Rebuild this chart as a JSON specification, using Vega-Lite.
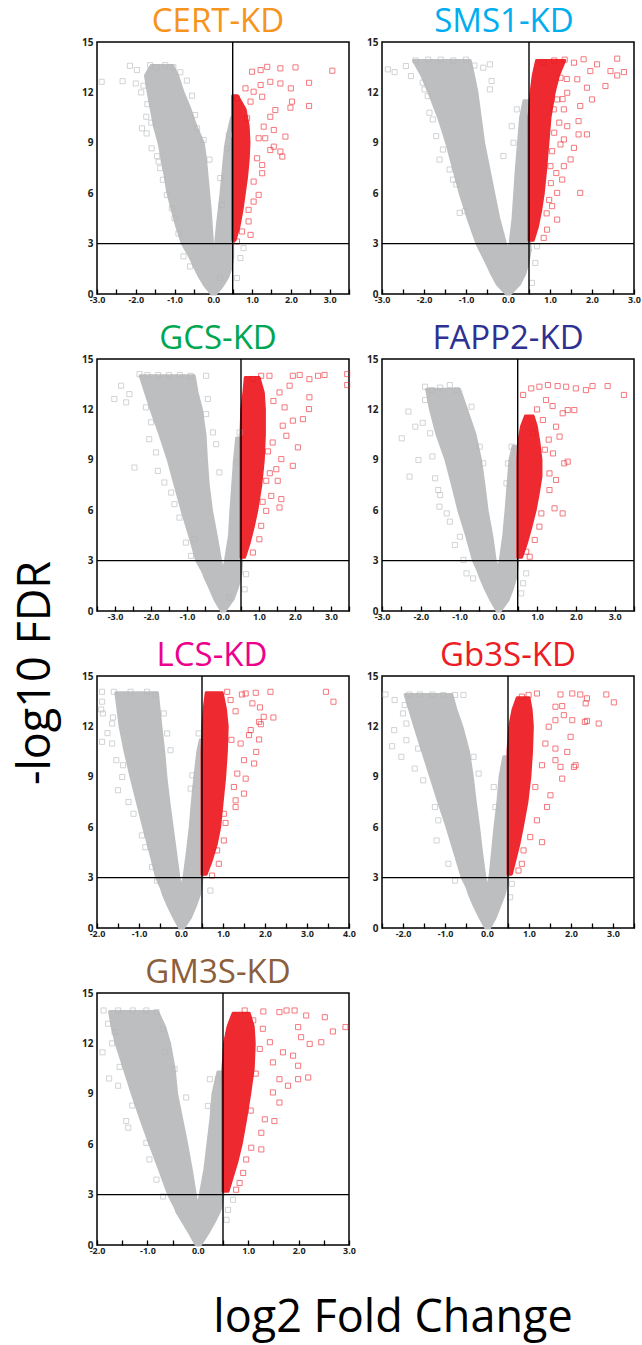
{
"$schema":"https://vega.github.io/schema/vega-lite/v6.json",
"padding":{"left":13,"top":5,"right":5,"bottom":5},
"background":"white",
"title":{"text":"-log10 FDR","orient":"left","anchor":"middle","fontSize":45,"fontWeight":"normal","font":"Open Sans","color":"#000","offset":22},
"datasets":{
"cores":[
{"p":"CERT","g":"B","y":0,"x":-0.04,"xe":0.06},{"p":"CERT","g":"B","y":0.5,"x":-0.22,"xe":0.24},{"p":"CERT","g":"B","y":1.0,"x":-0.35,"xe":0.37},{"p":"CERT","g":"B","y":1.5,"x":-0.46,"xe":0.45},{"p":"CERT","g":"B","y":2.2,"x":-0.6,"xe":0.5},
{"p":"CERT","g":"L","y":2.2,"x":-0.6,"xe":0.0},{"p":"CERT","g":"L","y":3,"x":-0.8,"xe":-0.02},{"p":"CERT","g":"L","y":4,"x":-0.94,"xe":-0.05},{"p":"CERT","g":"L","y":5,"x":-1.06,"xe":-0.08},{"p":"CERT","g":"L","y":6,"x":-1.17,"xe":-0.12},{"p":"CERT","g":"L","y":7,"x":-1.24,"xe":-0.16},{"p":"CERT","g":"L","y":8,"x":-1.32,"xe":-0.2},{"p":"CERT","g":"L","y":9,"x":-1.4,"xe":-0.26},{"p":"CERT","g":"L","y":10,"x":-1.52,"xe":-0.45},{"p":"CERT","g":"L","y":11,"x":-1.6,"xe":-0.6},{"p":"CERT","g":"L","y":12,"x":-1.68,"xe":-0.78},{"p":"CERT","g":"L","y":13,"x":-1.75,"xe":-0.92},{"p":"CERT","g":"L","y":13.6,"x":-1.6,"xe":-1.05},
{"p":"CERT","g":"R","y":2.2,"x":0.0,"xe":0.5},{"p":"CERT","g":"R","y":3,"x":0.06,"xe":0.5},{"p":"CERT","g":"R","y":4,"x":0.1,"xe":0.5},{"p":"CERT","g":"R","y":5,"x":0.15,"xe":0.5},{"p":"CERT","g":"R","y":6,"x":0.2,"xe":0.5},{"p":"CERT","g":"R","y":7,"x":0.24,"xe":0.5},{"p":"CERT","g":"R","y":8,"x":0.28,"xe":0.5},{"p":"CERT","g":"R","y":9,"x":0.33,"xe":0.5},{"p":"CERT","g":"R","y":10,"x":0.42,"xe":0.5},{"p":"CERT","g":"R","y":10.5,"x":0.47,"xe":0.5},
{"p":"CERT","g":"S","y":3.2,"x":0.5,"xe":0.56},{"p":"CERT","g":"S","y":4,"x":0.5,"xe":0.66},{"p":"CERT","g":"S","y":5,"x":0.5,"xe":0.74},{"p":"CERT","g":"S","y":6,"x":0.5,"xe":0.8},{"p":"CERT","g":"S","y":7,"x":0.5,"xe":0.86},{"p":"CERT","g":"S","y":8,"x":0.5,"xe":0.9},{"p":"CERT","g":"S","y":9,"x":0.5,"xe":0.92},{"p":"CERT","g":"S","y":10,"x":0.5,"xe":0.9},{"p":"CERT","g":"S","y":11,"x":0.5,"xe":0.82},{"p":"CERT","g":"S","y":11.8,"x":0.5,"xe":0.62},

{"p":"SMS1","g":"B","y":0,"x":-0.04,"xe":0.05},{"p":"SMS1","g":"B","y":0.6,"x":-0.26,"xe":0.28},{"p":"SMS1","g":"B","y":1.2,"x":-0.39,"xe":0.4},{"p":"SMS1","g":"B","y":1.8,"x":-0.5,"xe":0.47},{"p":"SMS1","g":"B","y":2.6,"x":-0.66,"xe":0.53},
{"p":"SMS1","g":"L","y":2.6,"x":-0.66,"xe":0.0},{"p":"SMS1","g":"L","y":3,"x":-0.74,"xe":-0.06},{"p":"SMS1","g":"L","y":4.5,"x":-0.95,"xe":-0.22},{"p":"SMS1","g":"L","y":6,"x":-1.14,"xe":-0.34},{"p":"SMS1","g":"L","y":7.5,"x":-1.3,"xe":-0.46},{"p":"SMS1","g":"L","y":9,"x":-1.46,"xe":-0.58},{"p":"SMS1","g":"L","y":10.5,"x":-1.65,"xe":-0.66},{"p":"SMS1","g":"L","y":12,"x":-1.88,"xe":-0.74},{"p":"SMS1","g":"L","y":13,"x":-2.05,"xe":-0.82},{"p":"SMS1","g":"L","y":13.9,"x":-2.25,"xe":-0.9},
{"p":"SMS1","g":"R","y":2.6,"x":0.0,"xe":0.53},{"p":"SMS1","g":"R","y":3,"x":0.05,"xe":0.52},{"p":"SMS1","g":"R","y":4.5,"x":0.12,"xe":0.5},{"p":"SMS1","g":"R","y":6,"x":0.16,"xe":0.5},{"p":"SMS1","g":"R","y":7.5,"x":0.2,"xe":0.5},{"p":"SMS1","g":"R","y":9,"x":0.25,"xe":0.5},{"p":"SMS1","g":"R","y":10.5,"x":0.3,"xe":0.5},{"p":"SMS1","g":"R","y":11.5,"x":0.38,"xe":0.5},
{"p":"SMS1","g":"S","y":3.2,"x":0.5,"xe":0.6},{"p":"SMS1","g":"S","y":4,"x":0.5,"xe":0.7},{"p":"SMS1","g":"S","y":5,"x":0.5,"xe":0.78},{"p":"SMS1","g":"S","y":6,"x":0.5,"xe":0.84},{"p":"SMS1","g":"S","y":7.5,"x":0.5,"xe":0.9},{"p":"SMS1","g":"S","y":9,"x":0.5,"xe":0.95},{"p":"SMS1","g":"S","y":10.5,"x":0.5,"xe":1.0},{"p":"SMS1","g":"S","y":12,"x":0.55,"xe":1.1},{"p":"SMS1","g":"S","y":13,"x":0.6,"xe":1.2},{"p":"SMS1","g":"S","y":13.9,"x":0.68,"xe":1.35},

{"p":"GCS","g":"B","y":0,"x":-0.04,"xe":0.05},{"p":"GCS","g":"B","y":0.7,"x":-0.23,"xe":0.28},{"p":"GCS","g":"B","y":1.4,"x":-0.37,"xe":0.4},{"p":"GCS","g":"B","y":2.0,"x":-0.5,"xe":0.48},{"p":"GCS","g":"B","y":2.3,"x":-0.55,"xe":0.5},
{"p":"GCS","g":"L","y":2.3,"x":-0.55,"xe":0.0},{"p":"GCS","g":"L","y":3,"x":-0.73,"xe":-0.07},{"p":"GCS","g":"L","y":4.5,"x":-0.93,"xe":-0.19},{"p":"GCS","g":"L","y":6,"x":-1.14,"xe":-0.32},{"p":"GCS","g":"L","y":7.5,"x":-1.33,"xe":-0.41},{"p":"GCS","g":"L","y":9,"x":-1.52,"xe":-0.46},{"p":"GCS","g":"L","y":10.5,"x":-1.75,"xe":-0.5},{"p":"GCS","g":"L","y":12,"x":-2.0,"xe":-0.6},{"p":"GCS","g":"L","y":13,"x":-2.15,"xe":-0.72},{"p":"GCS","g":"L","y":14,"x":-2.3,"xe":-0.8},
{"p":"GCS","g":"R","y":2.3,"x":0.0,"xe":0.5},{"p":"GCS","g":"R","y":3,"x":0.07,"xe":0.52},{"p":"GCS","g":"R","y":4.5,"x":0.18,"xe":0.5},{"p":"GCS","g":"R","y":6,"x":0.22,"xe":0.5},{"p":"GCS","g":"R","y":7.5,"x":0.27,"xe":0.5},{"p":"GCS","g":"R","y":9,"x":0.32,"xe":0.5},{"p":"GCS","g":"R","y":10.3,"x":0.38,"xe":0.5},
{"p":"GCS","g":"S","y":3.2,"x":0.5,"xe":0.6},{"p":"GCS","g":"S","y":4,"x":0.5,"xe":0.72},{"p":"GCS","g":"S","y":5,"x":0.5,"xe":0.84},{"p":"GCS","g":"S","y":6,"x":0.5,"xe":0.94},{"p":"GCS","g":"S","y":7.5,"x":0.5,"xe":1.05},{"p":"GCS","g":"S","y":9,"x":0.5,"xe":1.12},{"p":"GCS","g":"S","y":10.5,"x":0.5,"xe":1.15},{"p":"GCS","g":"S","y":12,"x":0.52,"xe":1.15},{"p":"GCS","g":"S","y":13,"x":0.58,"xe":1.12},{"p":"GCS","g":"S","y":13.9,"x":0.62,"xe":1.0},

{"p":"FAPP2","g":"B","y":0,"x":-0.03,"xe":0.05},{"p":"FAPP2","g":"B","y":0.65,"x":-0.19,"xe":0.25},{"p":"FAPP2","g":"B","y":1.3,"x":-0.33,"xe":0.36},{"p":"FAPP2","g":"B","y":2.0,"x":-0.46,"xe":0.45},{"p":"FAPP2","g":"B","y":2.5,"x":-0.54,"xe":0.48},
{"p":"FAPP2","g":"L","y":2.5,"x":-0.54,"xe":0.0},{"p":"FAPP2","g":"L","y":3,"x":-0.64,"xe":-0.08},{"p":"FAPP2","g":"L","y":4.5,"x":-0.82,"xe":-0.17},{"p":"FAPP2","g":"L","y":6,"x":-1.02,"xe":-0.29},{"p":"FAPP2","g":"L","y":7.5,"x":-1.18,"xe":-0.37},{"p":"FAPP2","g":"L","y":9,"x":-1.35,"xe":-0.46},{"p":"FAPP2","g":"L","y":10.5,"x":-1.58,"xe":-0.6},{"p":"FAPP2","g":"L","y":12,"x":-1.75,"xe":-0.82},{"p":"FAPP2","g":"L","y":13.2,"x":-1.85,"xe":-1.0},
{"p":"FAPP2","g":"R","y":2.5,"x":0.0,"xe":0.48},{"p":"FAPP2","g":"R","y":3,"x":0.05,"xe":0.5},{"p":"FAPP2","g":"R","y":4.5,"x":0.14,"xe":0.5},{"p":"FAPP2","g":"R","y":6,"x":0.2,"xe":0.5},{"p":"FAPP2","g":"R","y":7.5,"x":0.25,"xe":0.5},{"p":"FAPP2","g":"R","y":9,"x":0.3,"xe":0.5},{"p":"FAPP2","g":"R","y":9.8,"x":0.38,"xe":0.5},
{"p":"FAPP2","g":"S","y":3.2,"x":0.5,"xe":0.6},{"p":"FAPP2","g":"S","y":4,"x":0.5,"xe":0.72},{"p":"FAPP2","g":"S","y":5,"x":0.5,"xe":0.84},{"p":"FAPP2","g":"S","y":6,"x":0.5,"xe":0.95},{"p":"FAPP2","g":"S","y":7,"x":0.5,"xe":1.03},{"p":"FAPP2","g":"S","y":8,"x":0.5,"xe":1.1},{"p":"FAPP2","g":"S","y":9,"x":0.5,"xe":1.1},{"p":"FAPP2","g":"S","y":10,"x":0.52,"xe":1.05},{"p":"FAPP2","g":"S","y":11,"x":0.6,"xe":0.98},{"p":"FAPP2","g":"S","y":11.6,"x":0.7,"xe":0.9},

{"p":"LCS","g":"B","y":0,"x":-0.03,"xe":0.06},{"p":"LCS","g":"B","y":0.64,"x":-0.17,"xe":0.23},{"p":"LCS","g":"B","y":1.3,"x":-0.3,"xe":0.34},{"p":"LCS","g":"B","y":2.0,"x":-0.42,"xe":0.44},{"p":"LCS","g":"B","y":2.4,"x":-0.47,"xe":0.47},
{"p":"LCS","g":"L","y":2.4,"x":-0.47,"xe":0.01},{"p":"LCS","g":"L","y":3,"x":-0.58,"xe":-0.05},{"p":"LCS","g":"L","y":4.5,"x":-0.73,"xe":-0.13},{"p":"LCS","g":"L","y":6,"x":-0.89,"xe":-0.21},{"p":"LCS","g":"L","y":7.5,"x":-1.04,"xe":-0.29},{"p":"LCS","g":"L","y":9,"x":-1.19,"xe":-0.36},{"p":"LCS","g":"L","y":10.5,"x":-1.33,"xe":-0.41},{"p":"LCS","g":"L","y":12,"x":-1.45,"xe":-0.48},{"p":"LCS","g":"L","y":13,"x":-1.5,"xe":-0.52},{"p":"LCS","g":"L","y":14,"x":-1.55,"xe":-0.56},
{"p":"LCS","g":"R","y":2.4,"x":0.01,"xe":0.47},{"p":"LCS","g":"R","y":3,"x":0.07,"xe":0.5},{"p":"LCS","g":"R","y":4.5,"x":0.15,"xe":0.5},{"p":"LCS","g":"R","y":6,"x":0.22,"xe":0.5},{"p":"LCS","g":"R","y":7.5,"x":0.27,"xe":0.5},{"p":"LCS","g":"R","y":9,"x":0.33,"xe":0.5},{"p":"LCS","g":"R","y":10.5,"x":0.4,"xe":0.5},{"p":"LCS","g":"R","y":11.2,"x":0.46,"xe":0.5},
{"p":"LCS","g":"S","y":3.2,"x":0.5,"xe":0.6},{"p":"LCS","g":"S","y":4,"x":0.5,"xe":0.72},{"p":"LCS","g":"S","y":5,"x":0.5,"xe":0.84},{"p":"LCS","g":"S","y":6,"x":0.5,"xe":0.92},{"p":"LCS","g":"S","y":7.5,"x":0.5,"xe":0.98},{"p":"LCS","g":"S","y":9,"x":0.5,"xe":1.04},{"p":"LCS","g":"S","y":10.5,"x":0.5,"xe":1.08},{"p":"LCS","g":"S","y":12,"x":0.52,"xe":1.1},{"p":"LCS","g":"S","y":13,"x":0.55,"xe":1.06},{"p":"LCS","g":"S","y":14,"x":0.6,"xe":0.98},

{"p":"Gb3S","g":"B","y":0,"x":-0.03,"xe":0.06},{"p":"Gb3S","g":"B","y":0.64,"x":-0.17,"xe":0.2},{"p":"Gb3S","g":"B","y":1.3,"x":-0.3,"xe":0.3},{"p":"Gb3S","g":"B","y":2.0,"x":-0.42,"xe":0.41},{"p":"Gb3S","g":"B","y":2.4,"x":-0.47,"xe":0.45},
{"p":"Gb3S","g":"L","y":2.4,"x":-0.47,"xe":0.01},{"p":"Gb3S","g":"L","y":3,"x":-0.59,"xe":-0.05},{"p":"Gb3S","g":"L","y":4.5,"x":-0.77,"xe":-0.13},{"p":"Gb3S","g":"L","y":6,"x":-0.95,"xe":-0.2},{"p":"Gb3S","g":"L","y":7.5,"x":-1.15,"xe":-0.28},{"p":"Gb3S","g":"L","y":9,"x":-1.34,"xe":-0.35},{"p":"Gb3S","g":"L","y":10.5,"x":-1.53,"xe":-0.44},{"p":"Gb3S","g":"L","y":12,"x":-1.72,"xe":-0.6},{"p":"Gb3S","g":"L","y":13,"x":-1.84,"xe":-0.74},{"p":"Gb3S","g":"L","y":13.9,"x":-1.95,"xe":-0.84},
{"p":"Gb3S","g":"R","y":2.4,"x":0.01,"xe":0.45},{"p":"Gb3S","g":"R","y":3,"x":0.07,"xe":0.5},{"p":"Gb3S","g":"R","y":4.5,"x":0.13,"xe":0.5},{"p":"Gb3S","g":"R","y":6,"x":0.19,"xe":0.5},{"p":"Gb3S","g":"R","y":7.5,"x":0.26,"xe":0.5},{"p":"Gb3S","g":"R","y":9,"x":0.31,"xe":0.5},{"p":"Gb3S","g":"R","y":10.2,"x":0.4,"xe":0.5},
{"p":"Gb3S","g":"S","y":3.2,"x":0.5,"xe":0.58},{"p":"Gb3S","g":"S","y":4,"x":0.5,"xe":0.66},{"p":"Gb3S","g":"S","y":5,"x":0.5,"xe":0.76},{"p":"Gb3S","g":"S","y":6,"x":0.5,"xe":0.84},{"p":"Gb3S","g":"S","y":7.5,"x":0.5,"xe":0.95},{"p":"Gb3S","g":"S","y":9,"x":0.5,"xe":1.02},{"p":"Gb3S","g":"S","y":10.5,"x":0.5,"xe":1.06},{"p":"Gb3S","g":"S","y":12,"x":0.54,"xe":1.08},{"p":"Gb3S","g":"S","y":13,"x":0.62,"xe":1.05},{"p":"Gb3S","g":"S","y":13.7,"x":0.72,"xe":1.0},

{"p":"GM3S","g":"B","y":0,"x":-0.03,"xe":0.05},{"p":"GM3S","g":"B","y":0.7,"x":-0.16,"xe":0.2},{"p":"GM3S","g":"B","y":1.4,"x":-0.3,"xe":0.33},{"p":"GM3S","g":"B","y":2.0,"x":-0.42,"xe":0.43},{"p":"GM3S","g":"B","y":2.2,"x":-0.44,"xe":0.45},
{"p":"GM3S","g":"L","y":2.2,"x":-0.44,"xe":0.0},{"p":"GM3S","g":"L","y":3,"x":-0.58,"xe":-0.05},{"p":"GM3S","g":"L","y":4.5,"x":-0.76,"xe":-0.13},{"p":"GM3S","g":"L","y":6,"x":-0.95,"xe":-0.22},{"p":"GM3S","g":"L","y":7.5,"x":-1.13,"xe":-0.32},{"p":"GM3S","g":"L","y":9,"x":-1.3,"xe":-0.42},{"p":"GM3S","g":"L","y":10.5,"x":-1.46,"xe":-0.47},{"p":"GM3S","g":"L","y":12,"x":-1.62,"xe":-0.56},{"p":"GM3S","g":"L","y":13,"x":-1.7,"xe":-0.66},{"p":"GM3S","g":"L","y":13.9,"x":-1.75,"xe":-0.8},
{"p":"GM3S","g":"R","y":2.2,"x":0.0,"xe":0.45},{"p":"GM3S","g":"R","y":3,"x":0.05,"xe":0.5},{"p":"GM3S","g":"R","y":4.5,"x":0.14,"xe":0.5},{"p":"GM3S","g":"R","y":6,"x":0.2,"xe":0.5},{"p":"GM3S","g":"R","y":7.5,"x":0.26,"xe":0.5},{"p":"GM3S","g":"R","y":9,"x":0.3,"xe":0.5},{"p":"GM3S","g":"R","y":10.3,"x":0.4,"xe":0.5},
{"p":"GM3S","g":"S","y":3.2,"x":0.5,"xe":0.6},{"p":"GM3S","g":"S","y":4,"x":0.5,"xe":0.68},{"p":"GM3S","g":"S","y":5,"x":0.5,"xe":0.78},{"p":"GM3S","g":"S","y":6,"x":0.5,"xe":0.86},{"p":"GM3S","g":"S","y":7.5,"x":0.5,"xe":0.95},{"p":"GM3S","g":"S","y":9,"x":0.5,"xe":1.03},{"p":"GM3S","g":"S","y":10.5,"x":0.5,"xe":1.1},{"p":"GM3S","g":"S","y":12,"x":0.53,"xe":1.12},{"p":"GM3S","g":"S","y":13,"x":0.6,"xe":1.1},{"p":"GM3S","g":"S","y":13.8,"x":0.7,"xe":1.02}
],
"pts":[
{"p":"CERT","x":-2.88,"y":12.63},{"p":"CERT","x":-2.34,"y":12.67},{"p":"CERT","x":-2.15,"y":13.58},{"p":"CERT","x":-1.97,"y":13.33},{"p":"CERT","x":-2.0,"y":12.53},{"p":"CERT","x":-1.86,"y":12.0},{"p":"CERT","x":-1.84,"y":9.86},{"p":"CERT","x":-1.72,"y":9.56},{"p":"CERT","x":-1.59,"y":8.67},{"p":"CERT","x":-1.73,"y":10.55},{"p":"CERT","x":-1.63,"y":13.62},{"p":"CERT","x":-1.46,"y":13.5},{"p":"CERT","x":-1.24,"y":13.62},{"p":"CERT","x":-1.03,"y":13.5},{"p":"CERT","x":-0.68,"y":12.7},{"p":"CERT","x":-0.47,"y":10.65},{"p":"CERT","x":-0.42,"y":9.86},{"p":"CERT","x":-0.25,"y":9.17},{"p":"CERT","x":-1.41,"y":7.88},{"p":"CERT","x":-1.37,"y":7.49},{"p":"CERT","x":-1.2,"y":5.9},{"p":"CERT","x":-1.07,"y":5.1},{"p":"CERT","x":-0.77,"y":2.24},{"p":"CERT","x":-0.6,"y":1.64},{"p":"CERT","x":0.18,"y":0.95},{"p":"CERT","x":0.61,"y":0.95},{"p":"CERT","x":0.7,"y":2.14},{"p":"CERT","x":0.78,"y":2.73},{"p":"CERT","x":0.22,"y":5.3},{"p":"CERT","x":0.35,"y":8.67},{"p":"CERT","x":0.4,"y":9.47},{"p":"CERT","x":0.18,"y":6.9},{"p":"CERT","x":-0.9,"y":3.6},{"p":"CERT","x":-1.0,"y":4.5},{"p":"CERT","x":-1.3,"y":6.8},{"p":"CERT","x":-1.45,"y":8.2},{"p":"CERT","x":-1.6,"y":10.2},{"p":"CERT","x":-1.7,"y":11.3},{"p":"CERT","x":-1.8,"y":12.4},{"p":"CERT","x":-0.1,"y":8.0},{"p":"CERT","x":-0.55,"y":11.8},{"p":"CERT","x":-0.85,"y":13.2},
{"p":"CERT","x":3.07,"y":13.29},{"p":"CERT","x":2.12,"y":13.49},{"p":"CERT","x":1.73,"y":13.43},{"p":"CERT","x":1.39,"y":13.52},{"p":"CERT","x":1.22,"y":13.33},{"p":"CERT","x":1.0,"y":13.23},{"p":"CERT","x":2.47,"y":12.57},{"p":"CERT","x":2.0,"y":12.24},{"p":"CERT","x":1.73,"y":12.53},{"p":"CERT","x":1.47,"y":12.63},{"p":"CERT","x":1.22,"y":12.44},{"p":"CERT","x":1.04,"y":12.04},{"p":"CERT","x":2.03,"y":11.45},{"p":"CERT","x":2.47,"y":11.19},{"p":"CERT","x":1.99,"y":11.09},{"p":"CERT","x":1.6,"y":10.95},{"p":"CERT","x":1.47,"y":10.55},{"p":"CERT","x":1.26,"y":11.74},{"p":"CERT","x":1.3,"y":9.96},{"p":"CERT","x":1.56,"y":9.76},{"p":"CERT","x":1.34,"y":9.27},{"p":"CERT","x":1.86,"y":9.37},{"p":"CERT","x":1.56,"y":8.77},{"p":"CERT","x":1.73,"y":8.48},{"p":"CERT","x":1.78,"y":8.18},{"p":"CERT","x":1.47,"y":8.57},{"p":"CERT","x":1.13,"y":8.08},{"p":"CERT","x":1.26,"y":7.68},{"p":"CERT","x":1.26,"y":7.19},{"p":"CERT","x":1.04,"y":6.69},{"p":"CERT","x":1.17,"y":5.9},{"p":"CERT","x":1.04,"y":5.5},{"p":"CERT","x":0.91,"y":5.01},{"p":"CERT","x":0.91,"y":4.32},{"p":"CERT","x":0.74,"y":3.72},{"p":"CERT","x":0.96,"y":3.52},{"p":"CERT","x":0.61,"y":3.13},{"p":"CERT","x":1.17,"y":9.27},{"p":"CERT","x":0.96,"y":11.45},{"p":"CERT","x":0.83,"y":12.24},{"p":"CERT","x":0.61,"y":11.64},{"p":"CERT","x":0.87,"y":10.46},

{"p":"SMS1","x":-2.86,"y":13.37},{"p":"SMS1","x":-2.7,"y":13.21},{"p":"SMS1","x":-2.43,"y":13.57},{"p":"SMS1","x":-2.31,"y":12.97},{"p":"SMS1","x":-2.03,"y":12.58},{"p":"SMS1","x":-1.99,"y":12.18},{"p":"SMS1","x":-1.91,"y":11.78},{"p":"SMS1","x":-1.87,"y":10.79},{"p":"SMS1","x":-1.79,"y":10.39},{"p":"SMS1","x":-1.71,"y":9.4},{"p":"SMS1","x":-1.55,"y":8.6},{"p":"SMS1","x":-1.63,"y":8.0},{"p":"SMS1","x":-1.39,"y":7.41},{"p":"SMS1","x":-1.31,"y":6.81},{"p":"SMS1","x":-1.23,"y":6.52},{"p":"SMS1","x":-1.15,"y":4.83},{"p":"SMS1","x":-1.03,"y":4.93},{"p":"SMS1","x":-0.43,"y":12.18},{"p":"SMS1","x":-0.39,"y":12.68},{"p":"SMS1","x":-0.59,"y":13.47},{"p":"SMS1","x":-0.43,"y":13.67},{"p":"SMS1","x":0.21,"y":10.99},{"p":"SMS1","x":0.13,"y":9.0},{"p":"SMS1","x":0.09,"y":9.99},{"p":"SMS1","x":-0.11,"y":8.21},{"p":"SMS1","x":0.69,"y":2.84},{"p":"SMS1","x":0.65,"y":1.85},{"p":"SMS1","x":0.57,"y":0.66},{"p":"SMS1","x":-2.2,"y":13.9},{"p":"SMS1","x":-1.9,"y":13.95},{"p":"SMS1","x":-1.6,"y":13.95},{"p":"SMS1","x":-1.3,"y":13.9},{"p":"SMS1","x":-1.0,"y":13.95},{"p":"SMS1","x":-0.8,"y":13.6},
{"p":"SMS1","x":2.6,"y":14.01},{"p":"SMS1","x":2.76,"y":13.21},{"p":"SMS1","x":2.44,"y":13.27},{"p":"SMS1","x":2.6,"y":13.01},{"p":"SMS1","x":2.12,"y":13.67},{"p":"SMS1","x":1.8,"y":13.97},{"p":"SMS1","x":1.57,"y":13.77},{"p":"SMS1","x":2.32,"y":12.38},{"p":"SMS1","x":1.88,"y":12.28},{"p":"SMS1","x":2.0,"y":11.58},{"p":"SMS1","x":1.72,"y":11.19},{"p":"SMS1","x":1.68,"y":10.29},{"p":"SMS1","x":1.88,"y":9.5},{"p":"SMS1","x":1.68,"y":9.5},{"p":"SMS1","x":1.57,"y":8.7},{"p":"SMS1","x":1.41,"y":9.99},{"p":"SMS1","x":1.33,"y":9.2},{"p":"SMS1","x":1.49,"y":8.01},{"p":"SMS1","x":1.72,"y":6.02},{"p":"SMS1","x":1.33,"y":7.61},{"p":"SMS1","x":1.29,"y":6.81},{"p":"SMS1","x":1.17,"y":6.02},{"p":"SMS1","x":1.05,"y":5.23},{"p":"SMS1","x":1.17,"y":4.43},{"p":"SMS1","x":0.93,"y":3.83},{"p":"SMS1","x":0.85,"y":3.34},{"p":"SMS1","x":1.41,"y":11.98},{"p":"SMS1","x":1.25,"y":12.87},{"p":"SMS1","x":1.65,"y":12.78},{"p":"SMS1","x":1.96,"y":13.27},{"p":"SMS1","x":1.09,"y":10.99},{"p":"SMS1","x":1.17,"y":11.58},{"p":"SMS1","x":0.85,"y":13.77},{"p":"SMS1","x":1.33,"y":10.99},{"p":"SMS1","x":1.01,"y":7.61},{"p":"SMS1","x":1.05,"y":8.5},{"p":"SMS1","x":1.15,"y":7.2},{"p":"SMS1","x":0.98,"y":5.6},{"p":"SMS1","x":1.22,"y":10.2},{"p":"SMS1","x":1.3,"y":11.6},{"p":"SMS1","x":1.1,"y":9.6},{"p":"SMS1","x":0.92,"y":4.8},{"p":"SMS1","x":1.4,"y":12.8},{"p":"SMS1","x":1.02,"y":6.6},{"p":"SMS1","x":1.25,"y":8.9},{"p":"SMS1","x":1.1,"y":13.9},{"p":"SMS1","x":1.35,"y":13.95},

{"p":"GCS","x":-3.02,"y":12.62},{"p":"GCS","x":-2.69,"y":12.42},{"p":"GCS","x":-2.6,"y":12.91},{"p":"GCS","x":-2.83,"y":13.41},{"p":"GCS","x":-2.32,"y":14.1},{"p":"GCS","x":-2.14,"y":12.12},{"p":"GCS","x":-2.05,"y":10.23},{"p":"GCS","x":-2.0,"y":11.23},{"p":"GCS","x":-1.86,"y":9.44},{"p":"GCS","x":-1.81,"y":8.34},{"p":"GCS","x":-2.46,"y":8.54},{"p":"GCS","x":-1.63,"y":7.65},{"p":"GCS","x":-1.44,"y":7.05},{"p":"GCS","x":-1.35,"y":6.36},{"p":"GCS","x":-1.21,"y":5.56},{"p":"GCS","x":-1.03,"y":4.07},{"p":"GCS","x":-0.89,"y":3.28},{"p":"GCS","x":-0.79,"y":4.27},{"p":"GCS","x":-0.47,"y":14.0},{"p":"GCS","x":-0.42,"y":12.62},{"p":"GCS","x":-0.47,"y":11.72},{"p":"GCS","x":-0.28,"y":10.63},{"p":"GCS","x":-0.19,"y":9.93},{"p":"GCS","x":-0.1,"y":8.25},{"p":"GCS","x":0.36,"y":8.84},{"p":"GCS","x":0.46,"y":10.63},{"p":"GCS","x":0.64,"y":2.19},{"p":"GCS","x":0.6,"y":1.29},{"p":"GCS","x":0.18,"y":0.79},{"p":"GCS","x":-2.1,"y":14.05},{"p":"GCS","x":-1.8,"y":14.05},{"p":"GCS","x":-1.5,"y":14.05},{"p":"GCS","x":-1.2,"y":14.05},{"p":"GCS","x":-0.9,"y":14.0},
{"p":"GCS","x":3.45,"y":14.1},{"p":"GCS","x":3.45,"y":13.45},{"p":"GCS","x":2.82,"y":14.05},{"p":"GCS","x":2.64,"y":14.0},{"p":"GCS","x":2.4,"y":13.8},{"p":"GCS","x":2.13,"y":14.05},{"p":"GCS","x":1.94,"y":14.0},{"p":"GCS","x":2.4,"y":12.72},{"p":"GCS","x":2.39,"y":12.02},{"p":"GCS","x":2.22,"y":11.42},{"p":"GCS","x":1.94,"y":11.33},{"p":"GCS","x":1.71,"y":12.12},{"p":"GCS","x":2.08,"y":9.74},{"p":"GCS","x":1.76,"y":10.43},{"p":"GCS","x":1.62,"y":9.04},{"p":"GCS","x":1.48,"y":8.44},{"p":"GCS","x":1.52,"y":7.75},{"p":"GCS","x":1.62,"y":6.66},{"p":"GCS","x":1.57,"y":6.16},{"p":"GCS","x":1.34,"y":6.85},{"p":"GCS","x":1.2,"y":5.96},{"p":"GCS","x":1.06,"y":5.07},{"p":"GCS","x":1.01,"y":4.27},{"p":"GCS","x":0.83,"y":3.48},{"p":"GCS","x":1.2,"y":7.75},{"p":"GCS","x":1.85,"y":13.41},{"p":"GCS","x":1.57,"y":13.01},{"p":"GCS","x":1.29,"y":14.0},{"p":"GCS","x":1.06,"y":14.0},{"p":"GCS","x":0.83,"y":13.81},{"p":"GCS","x":1.38,"y":10.03},{"p":"GCS","x":1.66,"y":11.03},{"p":"GCS","x":1.94,"y":8.64},{"p":"GCS","x":1.4,"y":12.5},{"p":"GCS","x":1.25,"y":9.5},{"p":"GCS","x":1.1,"y":6.5},{"p":"GCS","x":1.3,"y":8.2},

{"p":"FAPP2","x":-2.49,"y":10.28},{"p":"FAPP2","x":-2.32,"y":11.87},{"p":"FAPP2","x":-2.14,"y":10.97},{"p":"FAPP2","x":-2.06,"y":8.99},{"p":"FAPP2","x":-2.29,"y":8.0},{"p":"FAPP2","x":-1.89,"y":13.35},{"p":"FAPP2","x":-1.72,"y":13.15},{"p":"FAPP2","x":-1.89,"y":12.56},{"p":"FAPP2","x":-1.76,"y":10.58},{"p":"FAPP2","x":-1.63,"y":7.9},{"p":"FAPP2","x":-1.55,"y":7.2},{"p":"FAPP2","x":-1.52,"y":6.21},{"p":"FAPP2","x":-1.5,"y":6.9},{"p":"FAPP2","x":-1.33,"y":5.81},{"p":"FAPP2","x":-1.25,"y":5.32},{"p":"FAPP2","x":-1.12,"y":3.93},{"p":"FAPP2","x":-0.99,"y":4.42},{"p":"FAPP2","x":-0.9,"y":3.04},{"p":"FAPP2","x":-0.82,"y":2.24},{"p":"FAPP2","x":-0.65,"y":1.94},{"p":"FAPP2","x":-1.25,"y":13.45},{"p":"FAPP2","x":-1.08,"y":13.15},{"p":"FAPP2","x":-0.69,"y":12.16},{"p":"FAPP2","x":-0.48,"y":9.78},{"p":"FAPP2","x":-0.39,"y":8.79},{"p":"FAPP2","x":0.25,"y":8.79},{"p":"FAPP2","x":0.34,"y":9.78},{"p":"FAPP2","x":0.21,"y":7.6},{"p":"FAPP2","x":0.72,"y":2.24},{"p":"FAPP2","x":0.64,"y":1.65},{"p":"FAPP2","x":0.59,"y":1.05},{"p":"FAPP2","x":-1.5,"y":13.3},{"p":"FAPP2","x":-1.95,"y":11.2},{"p":"FAPP2","x":-1.7,"y":9.2},
{"p":"FAPP2","x":3.24,"y":12.86},{"p":"FAPP2","x":2.82,"y":13.39},{"p":"FAPP2","x":2.43,"y":13.39},{"p":"FAPP2","x":2.26,"y":13.15},{"p":"FAPP2","x":2.0,"y":13.25},{"p":"FAPP2","x":1.75,"y":13.35},{"p":"FAPP2","x":1.53,"y":13.39},{"p":"FAPP2","x":1.28,"y":13.45},{"p":"FAPP2","x":1.06,"y":13.35},{"p":"FAPP2","x":0.85,"y":13.25},{"p":"FAPP2","x":0.64,"y":12.86},{"p":"FAPP2","x":1.96,"y":11.96},{"p":"FAPP2","x":1.79,"y":11.96},{"p":"FAPP2","x":1.66,"y":11.77},{"p":"FAPP2","x":1.49,"y":10.97},{"p":"FAPP2","x":1.58,"y":10.38},{"p":"FAPP2","x":1.79,"y":8.89},{"p":"FAPP2","x":1.7,"y":8.79},{"p":"FAPP2","x":1.41,"y":9.38},{"p":"FAPP2","x":1.32,"y":8.19},{"p":"FAPP2","x":1.49,"y":7.8},{"p":"FAPP2","x":1.32,"y":7.2},{"p":"FAPP2","x":1.66,"y":5.81},{"p":"FAPP2","x":1.45,"y":6.11},{"p":"FAPP2","x":1.11,"y":5.81},{"p":"FAPP2","x":1.06,"y":5.02},{"p":"FAPP2","x":0.94,"y":4.23},{"p":"FAPP2","x":0.72,"y":3.53},{"p":"FAPP2","x":0.81,"y":3.23},{"p":"FAPP2","x":0.89,"y":10.58},{"p":"FAPP2","x":1.15,"y":11.37},{"p":"FAPP2","x":1.23,"y":12.56},{"p":"FAPP2","x":1.4,"y":12.2},{"p":"FAPP2","x":1.3,"y":10.2},{"p":"FAPP2","x":1.2,"y":9.6},{"p":"FAPP2","x":1.0,"y":12.0},

{"p":"LCS","x":-1.88,"y":14.06},{"p":"LCS","x":-1.88,"y":13.47},{"p":"LCS","x":-1.9,"y":13.01},{"p":"LCS","x":-1.86,"y":12.77},{"p":"LCS","x":-1.62,"y":12.53},{"p":"LCS","x":-1.64,"y":12.17},{"p":"LCS","x":-1.88,"y":11.08},{"p":"LCS","x":-1.64,"y":10.98},{"p":"LCS","x":-1.54,"y":9.99},{"p":"LCS","x":-1.4,"y":8.99},{"p":"LCS","x":-1.38,"y":9.69},{"p":"LCS","x":-1.13,"y":6.8},{"p":"LCS","x":-0.93,"y":5.51},{"p":"LCS","x":-0.85,"y":4.81},{"p":"LCS","x":-0.69,"y":3.62},{"p":"LCS","x":-0.57,"y":2.82},{"p":"LCS","x":-1.6,"y":14.06},{"p":"LCS","x":-1.2,"y":14.06},{"p":"LCS","x":-0.81,"y":14.06},{"p":"LCS","x":-0.61,"y":13.87},{"p":"LCS","x":-0.41,"y":12.77},{"p":"LCS","x":-0.33,"y":11.58},{"p":"LCS","x":-0.25,"y":10.58},{"p":"LCS","x":0.42,"y":11.58},{"p":"LCS","x":0.23,"y":8.3},{"p":"LCS","x":0.27,"y":9.09},{"p":"LCS","x":0.7,"y":2.23},{"p":"LCS","x":-1.75,"y":11.6},{"p":"LCS","x":-1.5,"y":8.2},{"p":"LCS","x":-1.25,"y":7.5},
{"p":"LCS","x":3.45,"y":14.06},{"p":"LCS","x":3.63,"y":13.47},{"p":"LCS","x":2.13,"y":14.06},{"p":"LCS","x":1.78,"y":14.0},{"p":"LCS","x":1.54,"y":13.96},{"p":"LCS","x":1.7,"y":13.37},{"p":"LCS","x":1.88,"y":13.13},{"p":"LCS","x":1.86,"y":12.27},{"p":"LCS","x":1.9,"y":12.13},{"p":"LCS","x":2.2,"y":12.53},{"p":"LCS","x":1.97,"y":12.57},{"p":"LCS","x":1.66,"y":11.78},{"p":"LCS","x":1.86,"y":11.22},{"p":"LCS","x":1.62,"y":11.48},{"p":"LCS","x":1.42,"y":10.98},{"p":"LCS","x":1.79,"y":10.48},{"p":"LCS","x":1.74,"y":9.79},{"p":"LCS","x":1.5,"y":9.99},{"p":"LCS","x":1.54,"y":8.89},{"p":"LCS","x":1.5,"y":8.0},{"p":"LCS","x":1.3,"y":7.6},{"p":"LCS","x":1.3,"y":7.2},{"p":"LCS","x":1.02,"y":6.8},{"p":"LCS","x":1.06,"y":6.25},{"p":"LCS","x":1.02,"y":5.21},{"p":"LCS","x":0.86,"y":4.62},{"p":"LCS","x":0.9,"y":3.82},{"p":"LCS","x":0.74,"y":3.12},{"p":"LCS","x":1.18,"y":13.57},{"p":"LCS","x":1.1,"y":14.06},{"p":"LCS","x":1.34,"y":9.19},{"p":"LCS","x":1.26,"y":8.39},{"p":"LCS","x":1.3,"y":12.9},{"p":"LCS","x":1.45,"y":13.9},{"p":"LCS","x":1.2,"y":11.2},

{"p":"Gb3S","x":-2.42,"y":13.9},{"p":"Gb3S","x":-2.2,"y":13.57},{"p":"Gb3S","x":-1.96,"y":13.27},{"p":"Gb3S","x":-2.0,"y":12.77},{"p":"Gb3S","x":-2.21,"y":11.78},{"p":"Gb3S","x":-2.26,"y":10.82},{"p":"Gb3S","x":-2.04,"y":10.19},{"p":"Gb3S","x":-1.92,"y":12.17},{"p":"Gb3S","x":-1.92,"y":11.18},{"p":"Gb3S","x":-1.64,"y":10.68},{"p":"Gb3S","x":-1.72,"y":9.49},{"p":"Gb3S","x":-1.52,"y":8.79},{"p":"Gb3S","x":-1.24,"y":7.2},{"p":"Gb3S","x":-1.16,"y":6.41},{"p":"Gb3S","x":-1.2,"y":5.21},{"p":"Gb3S","x":-0.92,"y":3.82},{"p":"Gb3S","x":-0.76,"y":2.82},{"p":"Gb3S","x":-0.56,"y":13.87},{"p":"Gb3S","x":-0.76,"y":13.87},{"p":"Gb3S","x":-1.04,"y":13.87},{"p":"Gb3S","x":-0.32,"y":10.19},{"p":"Gb3S","x":-0.2,"y":9.19},{"p":"Gb3S","x":0.16,"y":8.39},{"p":"Gb3S","x":0.2,"y":7.2},{"p":"Gb3S","x":0.59,"y":2.63},{"p":"Gb3S","x":0.55,"y":1.83},{"p":"Gb3S","x":-1.3,"y":13.9},{"p":"Gb3S","x":-1.6,"y":13.9},{"p":"Gb3S","x":-1.85,"y":13.9},
{"p":"Gb3S","x":2.84,"y":13.9},{"p":"Gb3S","x":3.02,"y":13.43},{"p":"Gb3S","x":2.38,"y":13.67},{"p":"Gb3S","x":2.22,"y":13.9},{"p":"Gb3S","x":2.03,"y":13.96},{"p":"Gb3S","x":1.75,"y":13.9},{"p":"Gb3S","x":1.79,"y":13.21},{"p":"Gb3S","x":1.63,"y":13.17},{"p":"Gb3S","x":2.35,"y":13.37},{"p":"Gb3S","x":2.66,"y":12.17},{"p":"Gb3S","x":2.38,"y":12.33},{"p":"Gb3S","x":2.33,"y":12.27},{"p":"Gb3S","x":2.03,"y":12.37},{"p":"Gb3S","x":1.83,"y":12.67},{"p":"Gb3S","x":1.63,"y":12.37},{"p":"Gb3S","x":1.99,"y":11.38},{"p":"Gb3S","x":1.63,"y":10.68},{"p":"Gb3S","x":1.91,"y":10.48},{"p":"Gb3S","x":2.11,"y":9.69},{"p":"Gb3S","x":2.07,"y":9.59},{"p":"Gb3S","x":1.75,"y":9.59},{"p":"Gb3S","x":1.63,"y":9.99},{"p":"Gb3S","x":1.79,"y":8.89},{"p":"Gb3S","x":1.31,"y":9.69},{"p":"Gb3S","x":1.51,"y":7.9},{"p":"Gb3S","x":1.43,"y":7.2},{"p":"Gb3S","x":1.19,"y":6.41},{"p":"Gb3S","x":1.31,"y":5.11},{"p":"Gb3S","x":1.03,"y":5.41},{"p":"Gb3S","x":0.87,"y":4.62},{"p":"Gb3S","x":0.83,"y":3.82},{"p":"Gb3S","x":0.75,"y":3.42},{"p":"Gb3S","x":1.19,"y":13.96},{"p":"Gb3S","x":0.99,"y":13.87},{"p":"Gb3S","x":0.83,"y":13.77},{"p":"Gb3S","x":1.47,"y":11.98},{"p":"Gb3S","x":1.39,"y":10.98},{"p":"Gb3S","x":1.15,"y":8.39},

{"p":"GM3S","x":-1.87,"y":13.96},{"p":"GM3S","x":-1.78,"y":13.17},{"p":"GM3S","x":-1.65,"y":12.67},{"p":"GM3S","x":-1.89,"y":11.47},{"p":"GM3S","x":-1.76,"y":9.91},{"p":"GM3S","x":-1.58,"y":9.48},{"p":"GM3S","x":-1.42,"y":7.38},{"p":"GM3S","x":-1.38,"y":6.98},{"p":"GM3S","x":-1.02,"y":6.08},{"p":"GM3S","x":-0.96,"y":5.09},{"p":"GM3S","x":-0.82,"y":3.89},{"p":"GM3S","x":-0.69,"y":2.89},{"p":"GM3S","x":-1.58,"y":13.96},{"p":"GM3S","x":-1.29,"y":13.96},{"p":"GM3S","x":-1.02,"y":13.96},{"p":"GM3S","x":-0.82,"y":13.86},{"p":"GM3S","x":-0.69,"y":12.87},{"p":"GM3S","x":-0.66,"y":11.47},{"p":"GM3S","x":-0.46,"y":10.47},{"p":"GM3S","x":-0.23,"y":8.78},{"p":"GM3S","x":0.24,"y":9.87},{"p":"GM3S","x":0.4,"y":9.87},{"p":"GM3S","x":0.2,"y":8.28},{"p":"GM3S","x":0.7,"y":2.69},{"p":"GM3S","x":0.6,"y":2.09},{"p":"GM3S","x":0.57,"y":1.5},{"p":"GM3S","x":-1.7,"y":12.0},{"p":"GM3S","x":-1.55,"y":10.6},{"p":"GM3S","x":-1.3,"y":8.3},
{"p":"GM3S","x":2.93,"y":12.97},{"p":"GM3S","x":2.68,"y":12.71},{"p":"GM3S","x":2.52,"y":13.56},{"p":"GM3S","x":2.45,"y":12.07},{"p":"GM3S","x":2.22,"y":11.97},{"p":"GM3S","x":2.15,"y":13.66},{"p":"GM3S","x":1.99,"y":12.97},{"p":"GM3S","x":2.05,"y":12.37},{"p":"GM3S","x":1.92,"y":13.96},{"p":"GM3S","x":1.76,"y":13.96},{"p":"GM3S","x":1.62,"y":13.86},{"p":"GM3S","x":1.99,"y":10.67},{"p":"GM3S","x":1.89,"y":11.27},{"p":"GM3S","x":2.19,"y":9.97},{"p":"GM3S","x":1.99,"y":9.87},{"p":"GM3S","x":1.69,"y":11.47},{"p":"GM3S","x":1.79,"y":9.48},{"p":"GM3S","x":1.62,"y":9.87},{"p":"GM3S","x":1.49,"y":9.08},{"p":"GM3S","x":1.62,"y":8.48},{"p":"GM3S","x":1.52,"y":7.38},{"p":"GM3S","x":1.33,"y":7.48},{"p":"GM3S","x":1.26,"y":6.68},{"p":"GM3S","x":1.26,"y":5.69},{"p":"GM3S","x":1.06,"y":5.79},{"p":"GM3S","x":0.96,"y":5.09},{"p":"GM3S","x":0.9,"y":4.29},{"p":"GM3S","x":0.83,"y":3.69},{"p":"GM3S","x":0.76,"y":3.29},{"p":"GM3S","x":0.93,"y":13.96},{"p":"GM3S","x":1.1,"y":13.37},{"p":"GM3S","x":1.29,"y":12.87},{"p":"GM3S","x":1.43,"y":12.07},{"p":"GM3S","x":1.23,"y":11.67},{"p":"GM3S","x":1.49,"y":10.87},{"p":"GM3S","x":1.3,"y":13.9},{"p":"GM3S","x":1.15,"y":10.2},{"p":"GM3S","x":1.05,"y":8.0}
]
},
"hconcat":[{
"title":{"text":"log2 Fold Change","orient":"bottom","anchor":"middle","fontSize":45,"fontWeight":"normal","font":"Open Sans","color":"#000","offset":40,"dx":32},
"columns":2,
"spacing":{"row":17,"column":8},
"concat":[
{"width":252,"height":252,"title":{"text":"CERT-KD","color":"#F7941D","dx":-5},
"layer":[
{"data":{"name":"cores"},"transform":[{"filter":"datum.p==='CERT'"}],"mark":{"type":"area","orient":"horizontal","strokeWidth":3,"strokeJoin":"round"},
"encoding":{"y":{"field":"y","type":"quantitative","title":null,"scale":{"domain":[0,15]},"axis":{"values":[0,3,6,9,12,15],"labelOverlap":false}},
"x":{"field":"x","type":"quantitative","title":null,"scale":{"domain":[-3,3.5]},"axis":{"values":[-3,-2.5,-2,-1.5,-1,-0.5,0,0.5,1,1.5,2,2.5,3,3.5],"tickCount":30,"labelOverlap":false,"labelExpr":"datum.value % 1 === 0 ? replace(format(datum.value, '.1f'), '\u2212', '-') : ''"}},
"x2":{"field":"xe"},"detail":{"field":"g"},
"color":{"condition":{"test":"datum.g==='S'","value":"#EE2A30"},"value":"#BDBEC0"},
"stroke":{"condition":{"test":"datum.g==='S'","value":"#EE2A30"},"value":"#BDBEC0"}}},
{"data":{"name":"pts"},"transform":[{"filter":"datum.p==='CERT'"}],"mark":{"type":"point","shape":"square","filled":false,"size":26,"strokeWidth":0.9,"opacity":0.65},
"encoding":{"x":{"field":"x","type":"quantitative","title":null,"scale":{"domain":[-3,3.5]}},"y":{"field":"y","type":"quantitative","title":null,"scale":{"domain":[0,15]}},
"color":{"condition":{"test":"datum.x>0.5&&datum.y>3","value":"#ED1C24"},"value":"#B3B5B7"}}},
{"data":{"values":[{"x":0.5}]},"mark":{"type":"rule","color":"#000","strokeWidth":1.4},"encoding":{"x":{"field":"x","type":"quantitative","title":null,"scale":{"domain":[-3,3.5]}}}},
{"data":{"values":[{"y":3}]},"mark":{"type":"rule","color":"#000","strokeWidth":1.4},"encoding":{"y":{"field":"y","type":"quantitative","title":null,"scale":{"domain":[0,15]}}}}
]},
{"width":252,"height":252,"title":{"text":"SMS1-KD","color":"#00AEEF","dx":-4},
"layer":[
{"data":{"name":"cores"},"transform":[{"filter":"datum.p==='SMS1'"}],"mark":{"type":"area","orient":"horizontal","strokeWidth":3,"strokeJoin":"round"},
"encoding":{"y":{"field":"y","type":"quantitative","title":null,"scale":{"domain":[0,15]},"axis":{"values":[0,3,6,9,12,15],"labelOverlap":false}},
"x":{"field":"x","type":"quantitative","title":null,"scale":{"domain":[-3,3]},"axis":{"values":[-3,-2.5,-2,-1.5,-1,-0.5,0,0.5,1,1.5,2,2.5,3],"tickCount":30,"labelOverlap":false,"labelExpr":"datum.value % 1 === 0 ? replace(format(datum.value, '.1f'), '\u2212', '-') : ''"}},
"x2":{"field":"xe"},"detail":{"field":"g"},
"color":{"condition":{"test":"datum.g==='S'","value":"#EE2A30"},"value":"#BDBEC0"},
"stroke":{"condition":{"test":"datum.g==='S'","value":"#EE2A30"},"value":"#BDBEC0"}}},
{"data":{"name":"pts"},"transform":[{"filter":"datum.p==='SMS1'"}],"mark":{"type":"point","shape":"square","filled":false,"size":26,"strokeWidth":0.9,"opacity":0.65},
"encoding":{"x":{"field":"x","type":"quantitative","title":null,"scale":{"domain":[-3,3]}},"y":{"field":"y","type":"quantitative","title":null,"scale":{"domain":[0,15]}},
"color":{"condition":{"test":"datum.x>0.5&&datum.y>3","value":"#ED1C24"},"value":"#B3B5B7"}}},
{"data":{"values":[{"x":0.5}]},"mark":{"type":"rule","color":"#000","strokeWidth":1.4},"encoding":{"x":{"field":"x","type":"quantitative","title":null,"scale":{"domain":[-3,3]}}}},
{"data":{"values":[{"y":3}]},"mark":{"type":"rule","color":"#000","strokeWidth":1.4},"encoding":{"y":{"field":"y","type":"quantitative","title":null,"scale":{"domain":[0,15]}}}}
]},
{"width":252,"height":252,"title":{"text":"GCS-KD","color":"#00A651","dx":-5},
"layer":[
{"data":{"name":"cores"},"transform":[{"filter":"datum.p==='GCS'"}],"mark":{"type":"area","orient":"horizontal","strokeWidth":3,"strokeJoin":"round"},
"encoding":{"y":{"field":"y","type":"quantitative","title":null,"scale":{"domain":[0,15]},"axis":{"values":[0,3,6,9,12,15],"labelOverlap":false}},
"x":{"field":"x","type":"quantitative","title":null,"scale":{"domain":[-3.5,3.5]},"axis":{"values":[-3.5,-3,-2.5,-2,-1.5,-1,-0.5,0,0.5,1,1.5,2,2.5,3,3.5],"tickCount":30,"labelOverlap":false,"labelExpr":"datum.value % 1 === 0 ? replace(format(datum.value, '.1f'), '\u2212', '-') : ''"}},
"x2":{"field":"xe"},"detail":{"field":"g"},
"color":{"condition":{"test":"datum.g==='S'","value":"#EE2A30"},"value":"#BDBEC0"},
"stroke":{"condition":{"test":"datum.g==='S'","value":"#EE2A30"},"value":"#BDBEC0"}}},
{"data":{"name":"pts"},"transform":[{"filter":"datum.p==='GCS'"}],"mark":{"type":"point","shape":"square","filled":false,"size":26,"strokeWidth":0.9,"opacity":0.65},
"encoding":{"x":{"field":"x","type":"quantitative","title":null,"scale":{"domain":[-3.5,3.5]}},"y":{"field":"y","type":"quantitative","title":null,"scale":{"domain":[0,15]}},
"color":{"condition":{"test":"datum.x>0.5&&datum.y>3","value":"#ED1C24"},"value":"#B3B5B7"}}},
{"data":{"values":[{"x":0.5}]},"mark":{"type":"rule","color":"#000","strokeWidth":1.4},"encoding":{"x":{"field":"x","type":"quantitative","title":null,"scale":{"domain":[-3.5,3.5]}}}},
{"data":{"values":[{"y":3}]},"mark":{"type":"rule","color":"#000","strokeWidth":1.4},"encoding":{"y":{"field":"y","type":"quantitative","title":null,"scale":{"domain":[0,15]}}}}
]},
{"width":252,"height":252,"title":{"text":"FAPP2-KD","color":"#2E3192"},
"layer":[
{"data":{"name":"cores"},"transform":[{"filter":"datum.p==='FAPP2'"}],"mark":{"type":"area","orient":"horizontal","strokeWidth":3,"strokeJoin":"round"},
"encoding":{"y":{"field":"y","type":"quantitative","title":null,"scale":{"domain":[0,15]},"axis":{"values":[0,3,6,9,12,15],"labelOverlap":false}},
"x":{"field":"x","type":"quantitative","title":null,"scale":{"domain":[-3,3.5]},"axis":{"values":[-3,-2.5,-2,-1.5,-1,-0.5,0,0.5,1,1.5,2,2.5,3,3.5],"tickCount":30,"labelOverlap":false,"labelExpr":"datum.value % 1 === 0 ? replace(format(datum.value, '.1f'), '\u2212', '-') : ''"}},
"x2":{"field":"xe"},"detail":{"field":"g"},
"color":{"condition":{"test":"datum.g==='S'","value":"#EE2A30"},"value":"#BDBEC0"},
"stroke":{"condition":{"test":"datum.g==='S'","value":"#EE2A30"},"value":"#BDBEC0"}}},
{"data":{"name":"pts"},"transform":[{"filter":"datum.p==='FAPP2'"}],"mark":{"type":"point","shape":"square","filled":false,"size":26,"strokeWidth":0.9,"opacity":0.65},
"encoding":{"x":{"field":"x","type":"quantitative","title":null,"scale":{"domain":[-3,3.5]}},"y":{"field":"y","type":"quantitative","title":null,"scale":{"domain":[0,15]}},
"color":{"condition":{"test":"datum.x>0.5&&datum.y>3","value":"#ED1C24"},"value":"#B3B5B7"}}},
{"data":{"values":[{"x":0.5}]},"mark":{"type":"rule","color":"#000","strokeWidth":1.4},"encoding":{"x":{"field":"x","type":"quantitative","title":null,"scale":{"domain":[-3,3.5]}}}},
{"data":{"values":[{"y":3}]},"mark":{"type":"rule","color":"#000","strokeWidth":1.4},"encoding":{"y":{"field":"y","type":"quantitative","title":null,"scale":{"domain":[0,15]}}}}
]},
{"width":252,"height":252,"title":{"text":"LCS-KD","color":"#EC008C","dx":-11},
"layer":[
{"data":{"name":"cores"},"transform":[{"filter":"datum.p==='LCS'"}],"mark":{"type":"area","orient":"horizontal","strokeWidth":3,"strokeJoin":"round"},
"encoding":{"y":{"field":"y","type":"quantitative","title":null,"scale":{"domain":[0,15]},"axis":{"values":[0,3,6,9,12,15],"labelOverlap":false}},
"x":{"field":"x","type":"quantitative","title":null,"scale":{"domain":[-2,4]},"axis":{"values":[-2,-1.5,-1,-0.5,0,0.5,1,1.5,2,2.5,3,3.5,4],"tickCount":30,"labelOverlap":false,"labelExpr":"datum.value % 1 === 0 ? replace(format(datum.value, '.1f'), '\u2212', '-') : ''"}},
"x2":{"field":"xe"},"detail":{"field":"g"},
"color":{"condition":{"test":"datum.g==='S'","value":"#EE2A30"},"value":"#BDBEC0"},
"stroke":{"condition":{"test":"datum.g==='S'","value":"#EE2A30"},"value":"#BDBEC0"}}},
{"data":{"name":"pts"},"transform":[{"filter":"datum.p==='LCS'"}],"mark":{"type":"point","shape":"square","filled":false,"size":26,"strokeWidth":0.9,"opacity":0.65},
"encoding":{"x":{"field":"x","type":"quantitative","title":null,"scale":{"domain":[-2,4]}},"y":{"field":"y","type":"quantitative","title":null,"scale":{"domain":[0,15]}},
"color":{"condition":{"test":"datum.x>0.5&&datum.y>3","value":"#ED1C24"},"value":"#B3B5B7"}}},
{"data":{"values":[{"x":0.5}]},"mark":{"type":"rule","color":"#000","strokeWidth":1.4},"encoding":{"x":{"field":"x","type":"quantitative","title":null,"scale":{"domain":[-2,4]}}}},
{"data":{"values":[{"y":3}]},"mark":{"type":"rule","color":"#000","strokeWidth":1.4},"encoding":{"y":{"field":"y","type":"quantitative","title":null,"scale":{"domain":[0,15]}}}}
]},
{"width":252,"height":252,"title":{"text":"Gb3S-KD","color":"#ED1C24"},
"layer":[
{"data":{"name":"cores"},"transform":[{"filter":"datum.p==='Gb3S'"}],"mark":{"type":"area","orient":"horizontal","strokeWidth":3,"strokeJoin":"round"},
"encoding":{"y":{"field":"y","type":"quantitative","title":null,"scale":{"domain":[0,15]},"axis":{"values":[0,3,6,9,12,15],"labelOverlap":false}},
"x":{"field":"x","type":"quantitative","title":null,"scale":{"domain":[-2.5,3.5]},"axis":{"values":[-2.5,-2,-1.5,-1,-0.5,0,0.5,1,1.5,2,2.5,3,3.5],"tickCount":30,"labelOverlap":false,"labelExpr":"datum.value % 1 === 0 ? replace(format(datum.value, '.1f'), '\u2212', '-') : ''"}},
"x2":{"field":"xe"},"detail":{"field":"g"},
"color":{"condition":{"test":"datum.g==='S'","value":"#EE2A30"},"value":"#BDBEC0"},
"stroke":{"condition":{"test":"datum.g==='S'","value":"#EE2A30"},"value":"#BDBEC0"}}},
{"data":{"name":"pts"},"transform":[{"filter":"datum.p==='Gb3S'"}],"mark":{"type":"point","shape":"square","filled":false,"size":26,"strokeWidth":0.9,"opacity":0.65},
"encoding":{"x":{"field":"x","type":"quantitative","title":null,"scale":{"domain":[-2.5,3.5]}},"y":{"field":"y","type":"quantitative","title":null,"scale":{"domain":[0,15]}},
"color":{"condition":{"test":"datum.x>0.5&&datum.y>3","value":"#ED1C24"},"value":"#B3B5B7"}}},
{"data":{"values":[{"x":0.5}]},"mark":{"type":"rule","color":"#000","strokeWidth":1.4},"encoding":{"x":{"field":"x","type":"quantitative","title":null,"scale":{"domain":[-2.5,3.5]}}}},
{"data":{"values":[{"y":3}]},"mark":{"type":"rule","color":"#000","strokeWidth":1.4},"encoding":{"y":{"field":"y","type":"quantitative","title":null,"scale":{"domain":[0,15]}}}}
]},
{"width":252,"height":252,"title":{"text":"GM3S-KD","color":"#8B5E3C","dx":-5},
"layer":[
{"data":{"name":"cores"},"transform":[{"filter":"datum.p==='GM3S'"}],"mark":{"type":"area","orient":"horizontal","strokeWidth":3,"strokeJoin":"round"},
"encoding":{"y":{"field":"y","type":"quantitative","title":null,"scale":{"domain":[0,15]},"axis":{"values":[0,3,6,9,12,15],"labelOverlap":false}},
"x":{"field":"x","type":"quantitative","title":null,"scale":{"domain":[-2,3]},"axis":{"values":[-2,-1.5,-1,-0.5,0,0.5,1,1.5,2,2.5,3],"tickCount":30,"labelOverlap":false,"labelExpr":"datum.value % 1 === 0 ? replace(format(datum.value, '.1f'), '\u2212', '-') : ''"}},
"x2":{"field":"xe"},"detail":{"field":"g"},
"color":{"condition":{"test":"datum.g==='S'","value":"#EE2A30"},"value":"#BDBEC0"},
"stroke":{"condition":{"test":"datum.g==='S'","value":"#EE2A30"},"value":"#BDBEC0"}}},
{"data":{"name":"pts"},"transform":[{"filter":"datum.p==='GM3S'"}],"mark":{"type":"point","shape":"square","filled":false,"size":26,"strokeWidth":0.9,"opacity":0.65},
"encoding":{"x":{"field":"x","type":"quantitative","title":null,"scale":{"domain":[-2,3]}},"y":{"field":"y","type":"quantitative","title":null,"scale":{"domain":[0,15]}},
"color":{"condition":{"test":"datum.x>0.5&&datum.y>3","value":"#ED1C24"},"value":"#B3B5B7"}}},
{"data":{"values":[{"x":0.5}]},"mark":{"type":"rule","color":"#000","strokeWidth":1.4},"encoding":{"x":{"field":"x","type":"quantitative","title":null,"scale":{"domain":[-2,3]}}}},
{"data":{"values":[{"y":3}]},"mark":{"type":"rule","color":"#000","strokeWidth":1.4},"encoding":{"y":{"field":"y","type":"quantitative","title":null,"scale":{"domain":[0,15]}}}}
]}
]
}],
"config":{
"view":{"stroke":"#000","strokeWidth":1.5},
"font":"Open Sans",
"title":{"font":"Open Sans","fontSize":33,"fontWeight":"normal","anchor":"middle","offset":-2},
"axis":{"grid":false,"domain":false,"labelFont":"Open Sans","labelColor":"#231F20","labelFontWeight":"bold"},
"axisX":{"tickSize":-5,"tickColor":"#000","tickWidth":1.3,"labelFontSize":9,"labelPadding":6,"labelFlush":false,"labelOverlap":false,"labelBound":false},
"axisY":{"ticks":false,"labelFontSize":10,"labelPadding":4,"labelOverlap":false}
}
}
